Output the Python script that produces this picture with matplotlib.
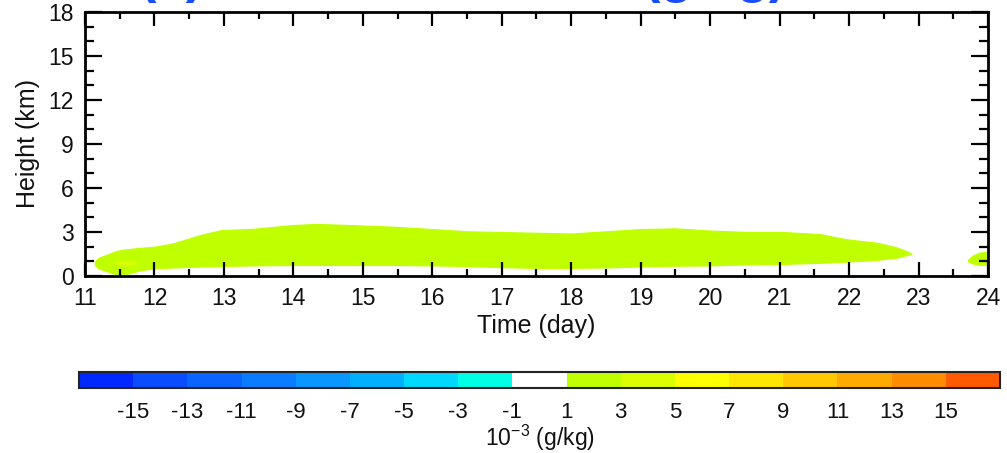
import matplotlib
matplotlib.use("Agg")
import matplotlib.pyplot as plt
from matplotlib.colors import ListedColormap, BoundaryNorm
from matplotlib.cm import ScalarMappable
from matplotlib.ticker import MultipleLocator

plt.rcParams['font.family'] = ['Liberation Sans', 'DejaVu Sans']

# Colour scale: 17 bins of width 2 (10^-3 g/kg), white around zero
levels = list(range(-17, 19, 2))
level_colors = [
    '#0028ff', '#0a4cff', '#0a64ff', '#0a7cff', '#0a96ff', '#00b0ff',
    '#00d8ff', '#00ffe6', '#ffffff',
    '#c0ff00', '#dcff00', '#ffff00', '#ffe600', '#ffc800', '#ffaa00',
    '#ff8c00', '#ff5a00',
]
cbar_ticks = list(range(-15, 17, 2))

# Main positive layer near the surface (value bin 1..3)
band_time = [11.14, 11.2, 11.3, 11.45, 11.55, 11.65, 11.8, 12.0, 12.27, 12.66,
             12.97, 13.38, 14.0, 14.34, 14.8, 15.5, 16.0, 16.5, 17.0, 17.5,
             18.0, 18.5, 19.0, 19.5, 20.0, 20.57, 21.05, 21.58, 21.97, 22.4,
             22.69, 22.85, 22.9]
band_top = [1.0, 1.25, 1.43, 1.7, 1.8, 1.85, 1.92, 2.0, 2.23, 2.8,
            3.14, 3.2, 3.48, 3.55, 3.48, 3.35, 3.2, 3.05, 3.0, 2.95,
            2.9, 3.05, 3.2, 3.25, 3.1, 3.0, 3.0, 2.86, 2.5, 2.27,
            1.95, 1.65, 1.5]
band_bottom = [0.75, 0.5, 0.35, 0.1, 0.05, 0.2, 0.4, 0.52, 0.58, 0.64,
               0.68, 0.72, 0.75, 0.75, 0.75, 0.75, 0.72, 0.68, 0.6, 0.55,
               0.55, 0.58, 0.65, 0.7, 0.72, 0.8, 0.82, 0.9, 0.98, 1.1,
               1.25, 1.45, 1.5]
band_value = 2.0

# Small core in the 3..5 bin
core_time = [11.42, 11.5, 11.6, 11.7, 11.76]
core_top = [0.9, 0.98, 1.0, 0.96, 0.9]
core_bottom = [0.9, 0.8, 0.78, 0.82, 0.9]
core_value = 4.0

# Layer starting again at the end of the period
tail_time = [23.71, 23.78, 23.88, 24.0]
tail_top = [1.1, 1.4, 1.6, 1.65]
tail_bottom = [1.0, 0.85, 0.75, 0.75]
tail_value = 2.0

cmap = ListedColormap(level_colors)
norm = BoundaryNorm(levels, cmap.N)

fig = plt.figure(figsize=(10.07, 4.53), dpi=100)
ax = fig.add_axes([85 / 1007, 1 - 276 / 453, 903 / 1007, 264 / 453])

for t, top, bot, val in [(band_time, band_top, band_bottom, band_value),
                         (core_time, core_top, core_bottom, core_value),
                         (tail_time, tail_top, tail_bottom, tail_value)]:
    ax.fill_between(t, bot, top, color=cmap(norm(val)), lw=0.8,
                    edgecolor=cmap(norm(val)))

ax.set_xlim(11, 24)
ax.set_ylim(0, 18)
ax.xaxis.set_major_locator(MultipleLocator(1))
ax.xaxis.set_minor_locator(MultipleLocator(0.5))
ax.yaxis.set_major_locator(MultipleLocator(3))
ax.yaxis.set_minor_locator(MultipleLocator(1))
ax.tick_params(axis='both', which='both', direction='in', top=True, right=True,
               colors='black', labelcolor='#111111', labelsize=16.5)
ax.tick_params(axis='x', which='major', length=10, width=1.6, pad=8)
ax.tick_params(axis='x', which='minor', length=5, width=1.6)
ax.tick_params(axis='y', which='major', length=12, width=1.6, pad=8)
ax.tick_params(axis='y', which='minor', length=6.5, width=1.6)
for sp in ax.spines.values():
    sp.set_linewidth(2)
ax.set_xlabel('Time (day)', fontsize=18, color='#111111', labelpad=3)
ax.set_ylabel('Height (km)', fontsize=18, color='#111111', labelpad=6)

# Panel title sits mostly above the top edge of the canvas
fig.text(0.138, 1 + 8 / 453, '(a) Cloud Water Mix (g/kg)', color='#1a4cff',
         fontsize=38, fontweight='bold', va='baseline', ha='left')

cax = fig.add_axes([79 / 1007, 1 - 388 / 453, 921 / 1007, 16 / 453])
sm = ScalarMappable(norm=norm, cmap=cmap)
cb = fig.colorbar(sm, cax=cax, orientation='horizontal', ticks=cbar_ticks)
cb.minorticks_off()
cb.outline.set_linewidth(1.5)
cb.outline.set_edgecolor('#222222')
cax.tick_params(length=0, labelsize=16, pad=10, labelcolor='#111111')
cax.set_xticklabels([str(v) for v in cbar_ticks])
cb.set_label(r'10$^{\mathregular{-3}}$ (g/kg)', fontsize=16.5, color='#111111',
             labelpad=0)

fig.savefig('out.png', dpi=100)
